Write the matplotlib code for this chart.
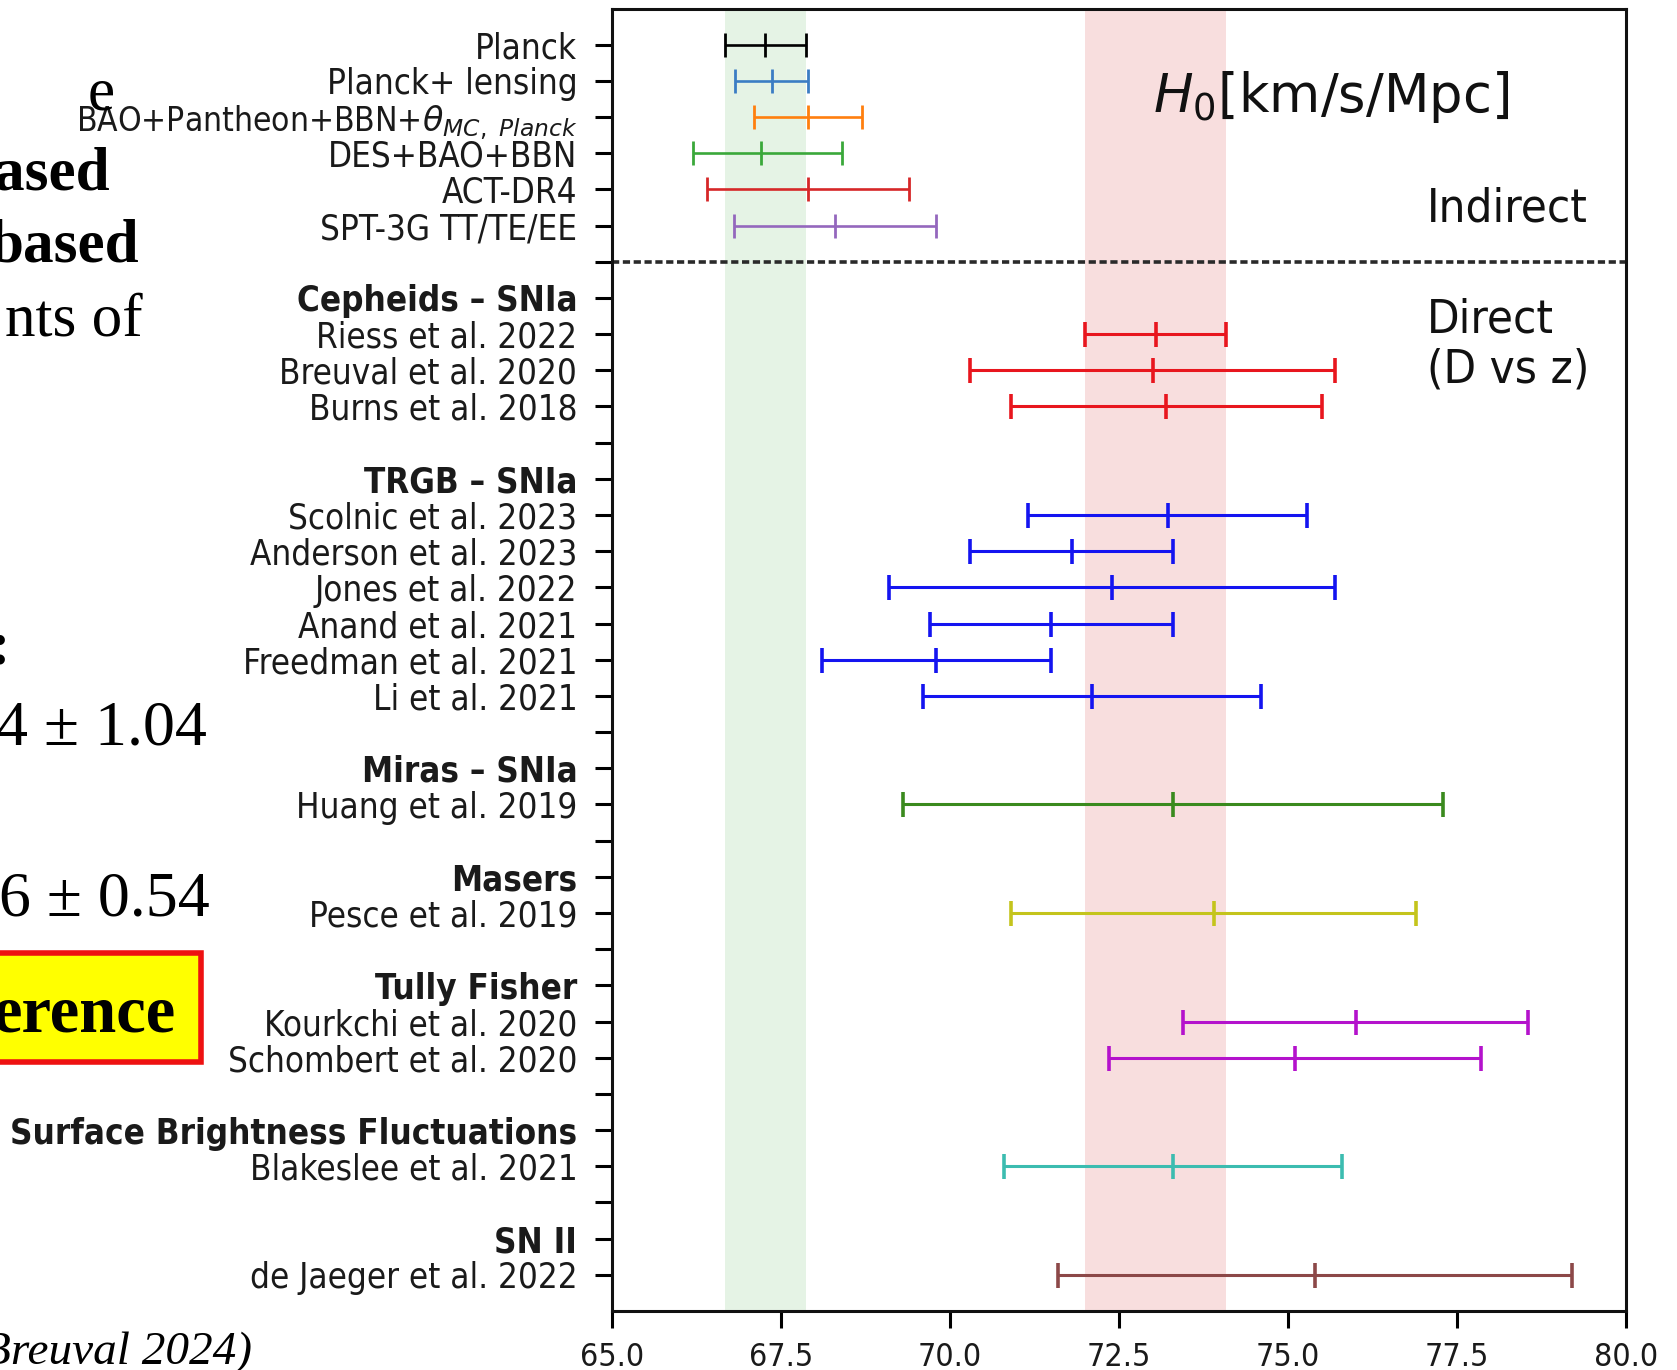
import matplotlib
matplotlib.use("Agg")
import matplotlib.pyplot as plt
from matplotlib.patches import Rectangle

# ---- H0 measurements (km/s/Mpc) ----
indirect_labels = ["Planck", "Planck+ lensing",
                   r"BAO+Pantheon+BBN+$\theta_{MC,\ Planck}$",
                   "DES+BAO+BBN", "ACT-DR4", "SPT-3G TT/TE/EE"]
indirect_h0 = [67.27, 67.36, 67.9, 67.2, 67.9, 68.3]
indirect_lo = [0.60, 0.54, 0.8, 1.0, 1.5, 1.5]
indirect_hi = [0.60, 0.54, 0.8, 1.2, 1.5, 1.5]
indirect_colors = ["black", "#3b7dc4", "#ff7f0e", "#3aa83a", "#d62728", "#9467bd"]

group_names = ["Cepheids – SNIa", "TRGB – SNIa", "Miras – SNIa", "Masers",
               "Tully Fisher", "Surface Brightness Fluctuations", "SN II"]
group_colors = ["#e8161e", "#1414f0", "#3a8a1e", "#c4c41c", "#b412cc",
                "#3cbcb0", "#8c4848"]

direct_labels = ["Riess et al. 2022", "Breuval et al. 2020", "Burns et al. 2018",
                 "Scolnic et al. 2023", "Anderson et al. 2023", "Jones et al. 2022",
                 "Anand et al. 2021", "Freedman et al. 2021", "Li et al. 2021",
                 "Huang et al. 2019", "Pesce et al. 2019",
                 "Kourkchi et al. 2020", "Schombert et al. 2020",
                 "Blakeslee et al. 2021", "de Jaeger et al. 2022"]
direct_group = [0, 0, 0, 1, 1, 1, 1, 1, 1, 2, 3, 4, 4, 5, 6]
direct_h0 = [73.04, 73.0, 73.2, 73.22, 71.8, 72.4, 71.5, 69.8, 72.1,
             73.3, 73.9, 76.0, 75.1, 73.3, 75.4]
direct_lo = [1.04, 2.7, 2.3, 2.06, 1.5, 3.3, 1.8, 1.7, 2.5,
             4.0, 3.0, 2.55, 2.75, 2.5, 3.8]
direct_hi = [1.04, 2.7, 2.3, 2.06, 1.5, 3.3, 1.8, 1.7, 2.5,
             4.0, 3.0, 2.55, 2.75, 2.5, 3.8]

xticks = [65.0, 67.5, 70.0, 72.5, 75.0, 77.5, 80.0]

W, H = 1677, 1370
fig = plt.figure(figsize=(W / 100, H / 100), dpi=100)
fig.patch.set_facecolor("white")
ax = fig.add_axes([612 / W, 1 - 1311 / H, (1626 - 612) / W, (1311 - 8.5) / H])

# ---- row layout ----
tick_labels, bold_rows = [], []
row = 0
indirect_rows = []
for lab in indirect_labels:
    indirect_rows.append(row)
    tick_labels.append(lab)
    row += 1
divider_row = row
tick_labels.append("")
row += 1
direct_rows = [None] * len(direct_labels)
for g, name in enumerate(group_names):
    bold_rows.append(row)
    tick_labels.append(name)
    row += 1
    for i, gi in enumerate(direct_group):
        if gi == g:
            direct_rows[i] = row
            tick_labels.append(direct_labels[i])
            row += 1
    if g < len(group_names) - 1:
        tick_labels.append("")
        row += 1
n_rows = row

# shaded bands: Planck and Riess et al. 2022
ax.axvspan(indirect_h0[0] - indirect_lo[0], indirect_h0[0] + indirect_hi[0],
           color="#2ca02c", alpha=0.12, lw=0, zorder=0)
ax.axvspan(direct_h0[0] - direct_lo[0], direct_h0[0] + direct_hi[0],
           color="#d62728", alpha=0.15, lw=0, zorder=0)

for r, v, lo, hi, c in zip(indirect_rows, indirect_h0, indirect_lo, indirect_hi,
                           indirect_colors):
    ax.errorbar([v], [r], xerr=[[lo], [hi]], fmt="|", color=c, ms=17, mew=2.0,
                elinewidth=1.9, capsize=8.5, capthick=2.0, zorder=3)

for i, (r, v, lo, hi) in enumerate(zip(direct_rows, direct_h0, direct_lo, direct_hi)):
    c = group_colors[direct_group[i]]
    ax.errorbar([v], [r], xerr=[[lo], [hi]], fmt="|", color=c, ms=18, mew=2.6,
                elinewidth=2.2, capsize=9, capthick=2.6, zorder=3)

ax.axhline(divider_row, color="#2a2a2a", ls=(0, (2.0, 1.0)), lw=2.6, zorder=2)

ax.set_xlim(65, 80)
ax.set_ylim(n_rows, -1)
ax.set_yticks(range(n_rows))
ax.set_yticklabels(tick_labels, fontsize=25, fontstretch="condensed", color="#1a1a1a")
ylabels = ax.get_yticklabels()
for r in bold_rows:
    ylabels[r].set_fontweight("bold")
ylabels[indirect_rows[2]].set_fontsize(24)
ax.set_xticks(xticks)
ax.set_xticklabels([f"{t:.1f}" for t in xticks], fontsize=23,
                   fontstretch="condensed", color="#1a1a1a")
ax.tick_params(axis="y", length=12, width=2.2, pad=13)
ax.tick_params(axis="x", length=12, width=2.2, pad=10)
for s in ax.spines.values():
    s.set_linewidth(2.2)
    s.set_color("#111111")

ax.text(73.0, 1.45, r"$H_0$[km/s/Mpc]", fontsize=38, va="center", ha="left",
        color="#111111")
ax.text(77.05, 4.55, "Indirect", fontsize=34, va="center", ha="left",
        fontstretch="condensed", color="#111111")
ax.text(77.05, 8.3, "Direct\n(D vs z)", fontsize=34, va="center", ha="left",
        linespacing=1.15, fontstretch="condensed", color="#111111")

# ---- surrounding slide text ----
serif = "Liberation Serif"


def ftext(x, y, s, **kw):
    fig.text(x / W, 1 - y / H, s, ha="right", va="baseline", family=serif,
             color="black", **kw)


ftext(115, 110, "e", fontsize=44)
ftext(110, 190, "ased", fontsize=44, fontweight="bold")
ftext(139, 262, "based", fontsize=44, fontweight="bold")
ftext(143, 336, "nts of", fontsize=44)
ftext(10, 664, ":", fontsize=44, fontweight="bold")
ftext(207, 745, "4 ± 1.04", fontsize=46)
ftext(210, 915, "6 ± 0.54", fontsize=46)
fig.patches.append(Rectangle((-20 / W, 1 - 1062 / H), 221 / W, 109 / H,
                             transform=fig.transFigure, facecolor="#ffff00",
                             edgecolor="#ee1111", lw=4, zorder=5))
fig.text(176 / W, 1 - 1032 / H, "erence", ha="right", va="baseline", family=serif,
         fontsize=48, fontweight="bold", color="black", zorder=6)
fig.text(252 / W, 1 - 1364 / H, "Breuval 2024)", ha="right", va="baseline",
         family=serif, fontsize=34, style="italic", color="black")

fig.savefig("out.png", dpi=100, facecolor="white")
